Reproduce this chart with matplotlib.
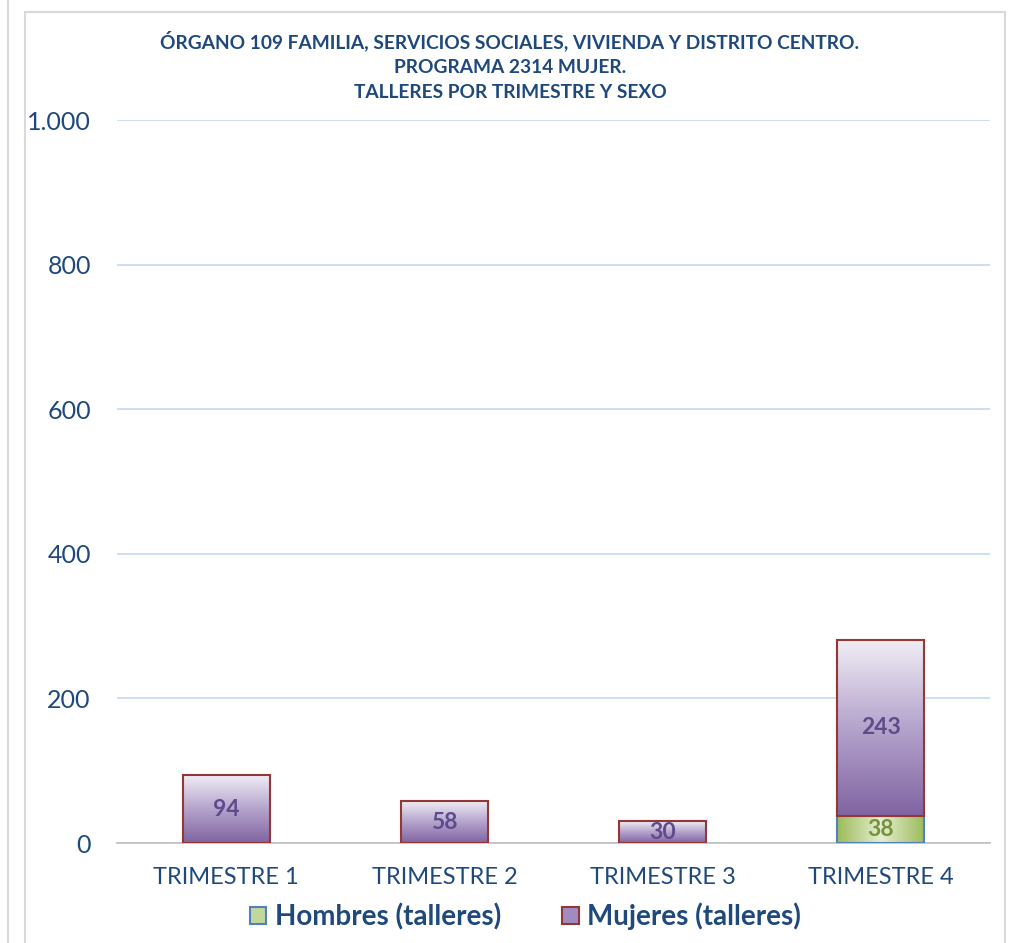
import numpy as np
import matplotlib
matplotlib.use("Agg")
import matplotlib.pyplot as plt
from matplotlib.colors import LinearSegmentedColormap
from matplotlib.patches import Patch, Rectangle
from matplotlib.lines import Line2D

categories = ["TRIMESTRE 1", "TRIMESTRE 2", "TRIMESTRE 3", "TRIMESTRE 4"]
hombres = [0, 0, 0, 38]
mujeres = [94, 58, 30, 243]
yticks = [0, 200, 400, 600, 800, 1000]
ytick_labels = ["0", "200", "400", "600", "800", "1.000"]
title = ("ÓRGANO 109 FAMILIA, SERVICIOS SOCIALES, VIVIENDA Y DISTRITO CENTRO.\n"
         "PROGRAMA 2314 MUJER.\n"
         "TALLERES POR TRIMESTRE Y SEXO")

plt.rcParams['font.family'] = ['Lato', 'DejaVu Sans']
navy = "#1f497d"

fig = plt.figure(figsize=(10.1, 9.43), dpi=100)
ax = fig.add_axes([0.116, 0.106, 0.864, 0.7667])

# frame of the chart area like the spreadsheet export
fig.patches.append(Rectangle((25 / 1010, -0.01), 980 / 1010, 1 - 12 / 943 + 0.01,
                             transform=fig.transFigure, fill=False,
                             edgecolor="#d9d9d9", linewidth=1.5))
fig.lines.append(Line2D([8 / 1010, 8 / 1010], [0, 1], transform=fig.transFigure,
                        color="#d9d9d9", linewidth=1.5))

x = np.arange(len(categories))
width = 0.4

cmap_m = LinearSegmentedColormap.from_list("m", ["#f0edf5", "#b4a3cc", "#8064a2"])
cmap_h = LinearSegmentedColormap.from_list("h", ["#9bbb59", "#e4eed0", "#9bbb59"])

bars_h = ax.bar(x, hombres, width, color="#c3d69b", edgecolor="#4f81bd",
                linewidth=1.5, zorder=3)
bars_m = ax.bar(x, mujeres, width, bottom=hombres, color="#a08cc0",
                edgecolor="#953735", linewidth=1.5, zorder=3)

ax.set_xlim(-0.5, 3.5)
ax.set_ylim(0, 1000)

grad_v = np.linspace(0, 1, 256).reshape(-1, 1)
grad_h = np.linspace(0, 1, 256).reshape(1, -1)
for bar in bars_m:
    if bar.get_height() <= 0:
        continue
    x0, y0 = bar.get_x(), bar.get_y()
    im = ax.imshow(grad_v, extent=[x0, x0 + bar.get_width(), y0, y0 + bar.get_height()],
                   origin="upper", aspect="auto", cmap=cmap_m, zorder=3)
    im.set_clip_path(bar)
for bar in bars_h:
    if bar.get_height() <= 0:
        continue
    x0, y0 = bar.get_x(), bar.get_y()
    im = ax.imshow(grad_h, extent=[x0, x0 + bar.get_width(), y0, y0 + bar.get_height()],
                   aspect="auto", cmap=cmap_h, zorder=3)
    im.set_clip_path(bar)
for bar in list(bars_m) + list(bars_h):
    bar.set_facecolor("none")
    bar.set_zorder(4)

ax.set_xlim(-0.5, 3.5)
ax.set_ylim(0, 1000)

for i in range(len(categories)):
    if mujeres[i] > 0:
        ax.text(x[i], hombres[i] + mujeres[i] / 2, str(mujeres[i]), ha="center",
                va="center", fontsize=16.5, fontweight="bold", color="#5f4b8b", zorder=5)
    if hombres[i] > 0:
        ax.text(x[i], hombres[i] / 2, str(hombres[i]), ha="center", va="center",
                fontsize=16.5, fontweight="bold", color="#76923c", zorder=5)

ax.set_yticks(yticks)
ax.set_yticklabels(ytick_labels, fontsize=18, color=navy)
ax.set_xticks(x)
ax.set_xticklabels(categories, fontsize=17, color=navy)
ax.tick_params(axis="x", length=0, pad=17)
ax.tick_params(axis="y", length=0, pad=19)
ax.grid(axis="y", color="#c6d9f1", linewidth=1.2, zorder=0)
for s in ["top", "right", "left"]:
    ax.spines[s].set_visible(False)
ax.spines["bottom"].set_color("#bfbfbf")
ax.spines["bottom"].set_linewidth(1.2)

fig.text(0.505, 0.93, title, ha="center", va="center", fontsize=13.8,
         fontweight="bold", color=navy, linespacing=1.55)

handles = [Patch(facecolor="#c3d69b", edgecolor="#4f81bd", linewidth=1.5),
           Patch(facecolor="#a08cc0", edgecolor="#953735", linewidth=1.5)]
leg = fig.legend(handles, ["Hombres (talleres)", "Mujeres (talleres)"],
                 loc="center", bbox_to_anchor=(0.52, 0.028), ncol=2, frameon=False,
                 prop={"size": 20, "weight": "bold"}, handlelength=0.6,
                 handleheight=0.6, handletextpad=0.3, columnspacing=2.2)
for t in leg.get_texts():
    t.set_color(navy)

fig.savefig("out.png", dpi=100)
